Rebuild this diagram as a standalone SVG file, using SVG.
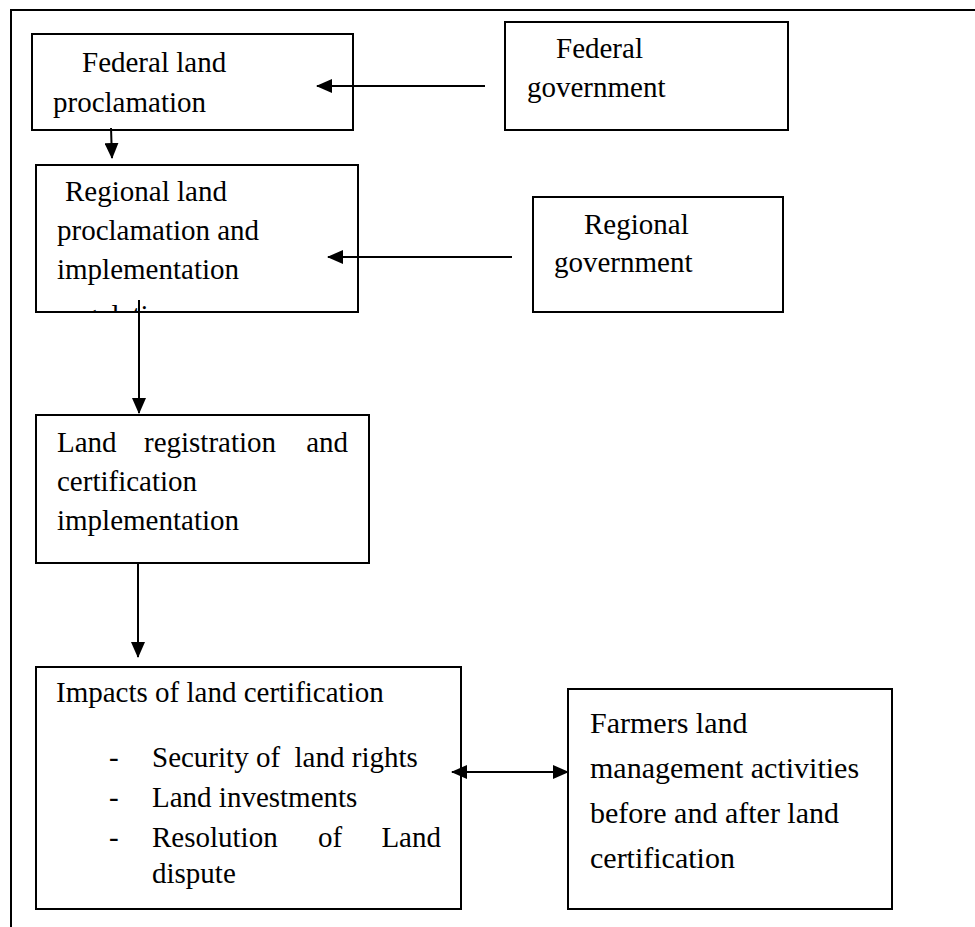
<svg xmlns="http://www.w3.org/2000/svg" width="975" height="927" viewBox="0 0 975 927">
<style>
.box{fill:#fff;stroke:#000;stroke-width:2}
.t{font-family:"Liberation Serif","Times New Roman",serif;font-size:29px;fill:#000}
.t30{font-family:"Liberation Serif","Times New Roman",serif;font-size:30px;fill:#000}
.ln{stroke:#000;stroke-width:2;fill:none}
</style>
<defs>
<marker id="ah" markerUnits="userSpaceOnUse" markerWidth="16" markerHeight="14" refX="15" refY="7" orient="auto-start-reverse" viewBox="0 0 16 14">
<path d="M0,0 L16,7 L0,14 z" fill="#000"/>
</marker>
<clipPath id="clipBox2"><rect x="37" y="166" width="320" height="145"/></clipPath>
</defs>
<rect width="975" height="927" fill="#fff"/>
<path class="ln" d="M11,927 L11,10 L975,10" stroke-width="1.6"/>

<g id="federal-proclamation">
<rect class="box" x="32" y="34" width="321" height="96"/>
<text class="t" x="82" y="72">Federal land</text>
<text class="t" x="53" y="112">proclamation</text>
</g>

<g id="federal-government">
<rect class="box" x="505" y="22" width="283" height="108"/>
<text class="t" x="556" y="58">Federal</text>
<text class="t" x="527" y="97">government</text>
</g>

<g id="regional-proclamation">
<rect class="box" x="36" y="165" width="322" height="147"/>
<text class="t" x="65" y="201">Regional land</text>
<text class="t" x="57" y="240">proclamation and</text>
<text class="t" x="57" y="279">implementation</text>
<text class="t" x="60" y="325" clip-path="url(#clipBox2)">regulation</text>
</g>

<g id="regional-government">
<rect class="box" x="533" y="197" width="250" height="115"/>
<text class="t" x="584" y="234">Regional</text>
<text class="t" x="554" y="272">government</text>
</g>

<g id="land-registration">
<rect class="box" x="36" y="415" width="333" height="148"/>
<text class="t" x="57" y="452">Land</text>
<text class="t" x="144" y="452">registration</text>
<text class="t" x="348" y="452" text-anchor="end">and</text>
<text class="t" x="57" y="491">certification</text>
<text class="t" x="57" y="530">implementation</text>
</g>

<g id="impacts">
<rect class="box" x="36" y="667" width="425" height="242"/>
<text class="t" x="56" y="702">Impacts of land certification</text>
<text class="t" x="109" y="767">-</text>
<text class="t" x="152" y="767" xml:space="preserve">Security of  land rights</text>
<text class="t" x="109" y="807">-</text>
<text class="t" x="152" y="807">Land investments</text>
<text class="t" x="109" y="847">-</text>
<text class="t" x="152" y="847">Resolution</text>
<text class="t" x="318" y="847">of</text>
<text class="t" x="441" y="847" text-anchor="end">Land</text>
<text class="t" x="152" y="883">dispute</text>
</g>

<g id="farmers">
<rect class="box" x="568" y="689" width="324" height="220"/>
<text class="t30" x="590" y="733">Farmers land</text>
<text class="t30" x="590" y="778">management activities</text>
<text class="t30" x="590" y="823">before and after land</text>
<text class="t30" x="590" y="868">certification</text>
</g>

<g id="connectors">
<line class="ln" x1="485" y1="86" x2="317" y2="86" marker-end="url(#ah)"/>
<line class="ln" x1="111" y1="128" x2="112" y2="158" marker-end="url(#ah)"/>
<line class="ln" x1="512" y1="257" x2="328" y2="257" marker-end="url(#ah)"/>
<line class="ln" x1="139" y1="300" x2="139" y2="413" marker-end="url(#ah)"/>
<line class="ln" x1="138" y1="563" x2="138" y2="657" marker-end="url(#ah)"/>
<line class="ln" x1="452" y1="772" x2="568" y2="772" marker-start="url(#ah)" marker-end="url(#ah)"/>
</g>
</svg>
